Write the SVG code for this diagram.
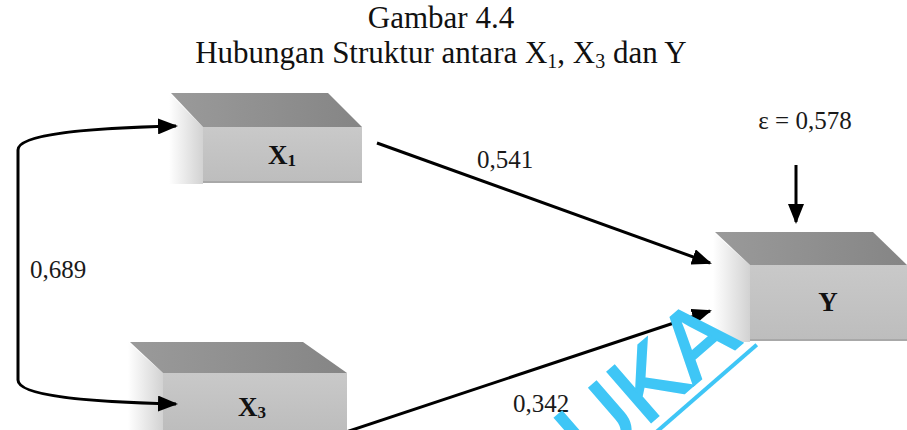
<svg xmlns="http://www.w3.org/2000/svg" width="907" height="430" viewBox="0 0 907 430">
<style>
.t{font-family:"Liberation Serif","Times New Roman",serif;fill:#111}
.lab{font-family:"Liberation Serif","Times New Roman",serif;font-size:25px;fill:#1a1a1a}
.nl{font-family:"Liberation Serif","Times New Roman",serif;font-size:27px;font-weight:bold;fill:#111}
.top{fill:url(#gTop)}
.front{fill:url(#gFront)}
.side{fill:url(#gSide)}
.conn{fill:none;stroke:#000;stroke-width:3}
</style>
<defs>
<linearGradient id="gTop" x1="0" y1="0" x2="1" y2="0">
<stop offset="0" stop-color="#9a9a9a"/><stop offset="1" stop-color="#858585"/>
</linearGradient>
<linearGradient id="gFront" x1="0" y1="0" x2="0" y2="1">
<stop offset="0" stop-color="#c9c9c9"/><stop offset="0.5" stop-color="#c3c3c3"/><stop offset="1" stop-color="#bdbdbd"/>
</linearGradient>
<linearGradient id="gSide" x1="0" y1="0" x2="1" y2="0">
<stop offset="0" stop-color="#ffffff"/><stop offset="1" stop-color="#d2d2d2"/>
</linearGradient>
<marker id="ah" viewBox="0 0 20 16" refX="18" refY="8" markerWidth="20" markerHeight="16" markerUnits="userSpaceOnUse" orient="auto-start-reverse">
<path d="M0,0 L20,8 L0,16 Z" fill="#000"/>
</marker>
</defs>

<g id="title">
<text class="t" x="441" y="28" font-size="31" text-anchor="middle">Gambar 4.4</text>
<text class="t" x="441" y="63" font-size="31" text-anchor="middle">Hubungan Struktur antara X<tspan font-size="20" dy="5">1</tspan><tspan dy="-5">, X</tspan><tspan font-size="20" dy="5">3</tspan><tspan dy="-5"> dan Y</tspan></text>
</g>

<g id="node-x1">
<polygon class="side" points="169,93 203,127 203,184 169,184"/>
<polygon class="top" points="171,93 328,93 362,127 203,127"/>
<rect class="front" x="203" y="127" width="159" height="55"/>
<rect x="203" y="181" width="159" height="2" fill="#a8a8a8"/>
<text class="nl" x="268" y="164">X<tspan font-size="17" dy="2">1</tspan></text>
</g>

<g id="node-x3">
<polygon class="side" points="128,342 163,373 163,430 128,430"/>
<polygon class="top" points="130,342 303,342 347,373 163,373"/>
<rect class="front" x="163" y="373" width="184" height="57"/>
<text class="nl" x="238" y="416">X<tspan font-size="17" dy="2">3</tspan></text>
</g>

<g id="node-y">
<polygon class="side" points="713,232 750,265 750,342 713,342"/>
<polygon class="top" points="715,232 873,232 907,265 750,265"/>
<rect class="front" x="750" y="265" width="157" height="75"/>
<rect x="750" y="339" width="157" height="2" fill="#a8a8a8"/>
<text class="nl" x="828" y="311" text-anchor="middle">Y</text>
</g>

<g id="connectors">
<path class="conn" d="M176,126 C90,128 18,134 18,150 L18,380 C18,396 90,402 176,404" marker-start="url(#ah)" marker-end="url(#ah)"/>
<line class="conn" x1="377" y1="143" x2="710" y2="263" marker-end="url(#ah)"/>
<line class="conn" x1="346" y1="432" x2="710" y2="311" marker-end="url(#ah)"/>
<line class="conn" x1="796" y1="165" x2="796" y2="222" marker-end="url(#ah)"/>
</g>

<g id="labels">
<text class="lab" x="477" y="168">0,541</text>
<text class="lab" x="30" y="278">0,689</text>
<text class="lab" x="513" y="412">0,342</text>
<text class="lab" x="805" y="129" font-size="26" text-anchor="middle">ε = 0,578</text>
</g>

<g id="watermark" transform="translate(742,343) rotate(-41)">
<text x="0" y="0" text-anchor="end" font-family="'Liberation Sans', Arial, sans-serif" font-size="96" fill="#3fc6f6" stroke="#3fc6f6" stroke-width="2.5">UKA</text>
<line x1="-240" y1="11" x2="10" y2="11" stroke="#3fc6f6" stroke-width="4"/>
</g>
</svg>
